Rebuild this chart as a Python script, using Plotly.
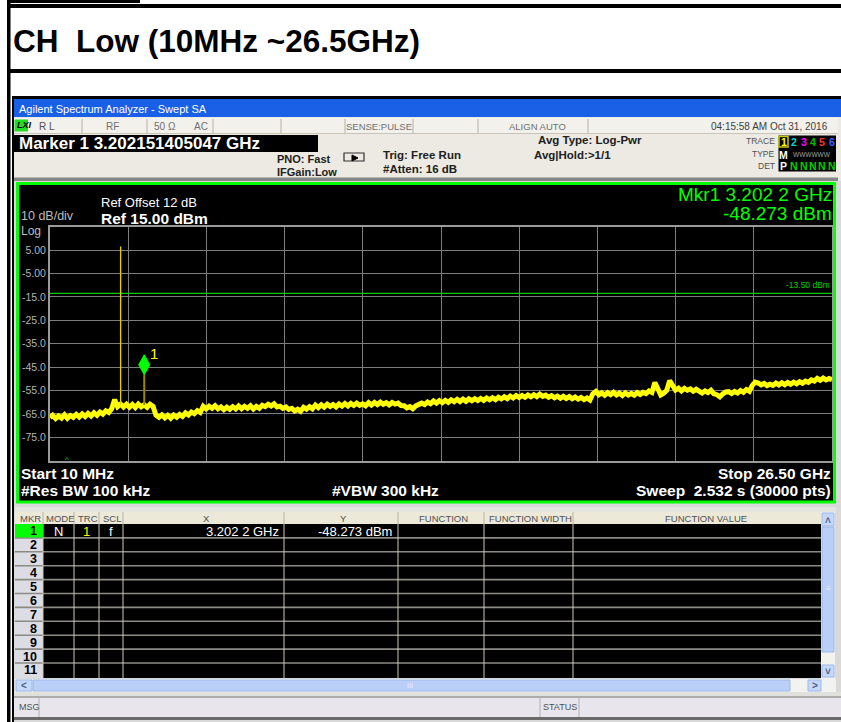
import plotly.graph_objects as go

W, H = 841, 722
FONT = "Liberation Sans, Arial, sans-serif"

# ---------------- data ----------------
freq_ghz = [0.01,
            0.1, 0.2, 0.3, 0.4, 0.5, 0.6, 0.7, 0.8, 0.9,
            1.0, 1.1, 1.2, 1.3, 1.4, 1.5, 1.6, 1.7, 1.8, 1.9,
            2.0, 2.1, 2.2, 2.3, 2.4, 2.5, 2.6, 2.7, 2.8, 2.9,
            3.0, 3.1, 3.2, 3.3, 3.4, 3.5, 3.6, 3.7, 3.8, 3.9,
            4.0, 4.1, 4.2, 4.3, 4.4, 4.5, 4.6, 4.7, 4.8, 4.9,
            5.0, 5.1, 5.2, 5.3, 5.4, 5.5, 5.6, 5.7, 5.8, 5.9,
            6.0, 6.1, 6.2, 6.3, 6.4, 6.5, 6.6, 6.7, 6.8, 6.9,
            7.0, 7.1, 7.2, 7.3, 7.4, 7.5, 7.6, 7.7, 7.8, 7.9,
            8.0, 8.1, 8.2, 8.3, 8.4, 8.5, 8.6, 8.7, 8.8, 8.9,
            9.0, 9.1, 9.2, 9.3, 9.4, 9.5, 9.6, 9.7, 9.8, 9.9,
            10.0, 10.1, 10.2, 10.3, 10.4, 10.5, 10.6, 10.7, 10.8, 10.9,
            11.0, 11.1, 11.2, 11.3, 11.4, 11.5, 11.6, 11.7, 11.8, 11.9,
            12.0, 12.1, 12.2, 12.3, 12.4, 12.5, 12.6, 12.7, 12.8, 12.9,
            13.0, 13.1, 13.2, 13.3, 13.4, 13.5, 13.6, 13.7, 13.8, 13.9,
            14.0, 14.1, 14.2, 14.3, 14.4, 14.5, 14.6, 14.7, 14.8, 14.9,
            15.0, 15.1, 15.2, 15.3, 15.4, 15.5, 15.6, 15.7, 15.8, 15.9,
            16.0, 16.1, 16.2, 16.3, 16.4, 16.5, 16.6, 16.7, 16.8, 16.9,
            17.0, 17.1, 17.2, 17.3, 17.4, 17.5, 17.6, 17.7, 17.8, 17.9,
            18.0, 18.1, 18.2, 18.3, 18.4, 18.5, 18.6, 18.7, 18.8, 18.9,
            19.0, 19.1, 19.2, 19.3, 19.4, 19.5, 19.6, 19.7, 19.8, 19.9,
            20.0, 20.1, 20.2, 20.3, 20.4, 20.5, 20.6, 20.7, 20.8, 20.9,
            21.0, 21.1, 21.2, 21.3, 21.4, 21.5, 21.6, 21.7, 21.8, 21.9,
            22.0, 22.1, 22.2, 22.3, 22.4, 22.5, 22.6, 22.7, 22.8, 22.9,
            23.0, 23.1, 23.2, 23.3, 23.4, 23.5, 23.6, 23.7, 23.8, 23.9,
            24.0, 24.1, 24.2, 24.3, 24.4, 24.5, 24.6, 24.7, 24.8, 24.9,
            25.0, 25.1, 25.2, 25.3, 25.4, 25.5, 25.6, 25.7, 25.8, 25.9,
            26.0, 26.1, 26.2, 26.3, 26.4, 26.5]
level_dbm = [-66.6,
             -65.6, -67.0, -65.9, -66.8, -65.4, -66.9, -65.7, -66.5, -65.2,
             -66.3, -65.0, -66.1, -64.8, -65.9, -64.5, -65.6, -64.2, -65.1, -63.7,
             -64.4, -62.8, -58.9, -61.9, -60.8, -62.1, -60.9, -62.2, -61.0, -62.3,
             -60.8, -62.0, -61.1, -62.2, -60.9, -61.8, -65.6, -66.5, -65.4, -66.7,
             -65.6, -66.8, -65.5, -66.4, -65.2, -66.1, -64.6, -65.5, -64.2, -64.9,
             -63.6, -64.4, -61.8, -62.9, -61.7, -62.6, -61.5, -62.8, -62.0, -63.2,
             -62.1, -63.0, -61.9, -62.9, -61.6, -62.8, -61.8, -62.6, -61.5, -62.9,
             -61.8, -62.6, -61.3, -61.9, -60.9, -61.6, -60.7, -62.0, -61.7, -62.6,
             -62.0, -63.1, -62.6, -63.7, -63.0, -63.9, -62.2, -63.0, -61.9, -62.8,
             -61.2, -62.3, -61.1, -62.1, -60.9, -61.8, -61.0, -62.0, -60.8, -61.7,
             -60.6, -61.6, -60.5, -61.4, -60.4, -61.3, -60.7, -61.5, -60.2, -61.2,
             -60.1, -61.0, -60.0, -60.9, -60.2, -61.1, -60.1, -60.8, -60.4, -61.4,
             -61.5, -62.4, -61.9, -62.8, -61.6, -61.2, -60.4, -61.0, -59.9, -60.6,
             -59.5, -60.4, -59.3, -60.2, -59.2, -60.1, -59.0, -59.8, -58.8, -59.7,
             -58.7, -59.6, -58.6, -59.4, -58.5, -59.3, -58.4, -59.2, -58.2, -59.0,
             -58.1, -58.9, -57.9, -58.6, -57.7, -58.5, -57.4, -58.2, -57.2, -58.0,
             -57.1, -57.9, -56.9, -57.7, -56.8, -57.6, -56.6, -57.5, -57.0, -57.9,
             -57.2, -58.1, -57.4, -58.3, -57.5, -58.4, -57.6, -58.5, -57.8, -58.7,
             -58.0, -58.9, -58.2, -59.1, -56.4, -55.4, -56.8, -56.0, -57.0, -55.9,
             -56.8, -55.8, -56.9, -56.1, -57.1, -56.0, -56.9, -56.2, -57.0, -55.9,
             -56.7, -55.8, -56.3, -55.2, -55.8, -51.6, -54.6, -56.9, -56.2, -55.0,
             -50.8, -53.2, -54.8, -54.0, -55.2, -54.1, -54.9, -54.3, -55.3, -54.5,
             -55.4, -56.1, -55.2, -55.9, -54.9, -56.4, -56.8, -57.7, -56.5, -55.6,
             -55.5, -56.3, -55.4, -56.1, -55.0, -55.8, -54.6, -55.3, -52.8, -51.4,
             -51.8, -52.6, -52.0, -52.9, -52.3, -52.8, -51.8, -52.6, -51.7, -52.5,
             -51.6, -52.3, -51.4, -52.1, -51.2, -51.9, -51.0, -51.5, -50.5, -51.0,
             -49.8, -50.6, -49.7, -50.5, -49.9, -50.4]

spike_freq_ghz = [2.402]
spike_level_dbm = [6.5]
spike_base_dbm = [-61.0]

marker_freq_ghz = 3.2022
marker_level_dbm = -48.273
marker_base_dbm = -61.2

limit_dbm = -13.5
start_ghz, stop_ghz = 0.01, 26.5
ref_dbm, bottom_dbm = 15.0, -85.0
ytick_vals = [5, -5, -15, -25, -35, -45, -55, -65, -75]
ytick_text = ["5.00", "-5.00", "-15.0", "-25.0", "-35.0", "-45.0", "-55.0", "-65.0", "-75.0"]

table_headers = ["MKR", "MODE", "TRC", "SCL", "X", "Y", "FUNCTION", "FUNCTION WIDTH", "FUNCTION VALUE"]
marker_numbers = ["1", "2", "3", "4", "5", "6", "7", "8", "9", "10", "11"]
row1_values = ["N", "1", "f", "3.202 2 GHz", "-48.273 dBm"]

# ---------------- helpers ----------------
shapes, annos = [], []


def X(p):
    return p / W


def Y(p):
    return 1 - p / H


def rect(x0, y0, x1, y1, fill, line=None, lw=0):
    shapes.append(dict(type="rect", xref="paper", yref="paper", x0=X(x0), x1=X(x1), y0=Y(y1), y1=Y(y0),
                       fillcolor=fill, line=dict(color=line or "rgba(0,0,0,0)", width=lw), layer="below"))


def hline(x0, x1, y, color, w=1):
    shapes.append(dict(type="line", xref="paper", yref="paper", x0=X(x0), x1=X(x1), y0=Y(y), y1=Y(y),
                       line=dict(color=color, width=w), layer="below"))


def vline(x, y0, y1, color, w=1):
    shapes.append(dict(type="line", xref="paper", yref="paper", x0=X(x), x1=X(x), y0=Y(y0), y1=Y(y1),
                       line=dict(color=color, width=w), layer="below"))


def txt(x, y, s, size, color, anchor="left", bold=False, italic=False, family=None):
    if bold:
        s = "<b>" + s + "</b>"
    if italic:
        s = "<i>" + s + "</i>"
    annos.append(dict(x=X(x), y=Y(y), xref="paper", yref="paper", text=s, showarrow=False,
                      xanchor=anchor, yanchor="middle", borderpad=0,
                      font=dict(size=size, color=color, family=family or FONT)))


# ---------------- page frame ----------------
rect(7, 0, 140, 3, "#000000")
rect(7, 4, 841, 8, "#000000")
rect(7, 0, 10.5, 722, "#000000")
rect(10, 69, 841, 73, "#000000")
txt(12, 41, "CH\u00a0 Low (10MHz ~26.5GHz)", 31.5, "#000000", bold=True)

# analyzer window
rect(12, 96, 841, 99, "#000000")
rect(12, 96, 14, 722, "#000000")
rect(14, 99, 841, 117, "#1a60e6")
txt(18, 108.5, "Agilent Spectrum Analyzer - Swept SA", 11, "#ffffff")

# header
rect(14, 117, 841, 181, "#eceae2")
rect(14, 118, 838, 133, "#f2f1ec")
for sx in [82, 147, 213, 281, 345, 413, 478, 588]:
    vline(sx, 119, 133, "#b4b0a4", 1)
hline(14, 838, 133.5, "#c8c4b8", 1)
rect(14.5, 119.5, 28, 131.5, "#22dd22")
txt(15.5, 125.5, "LXI", 9, "#000000", bold=True, italic=True)
txt(38, 126, "R L", 10, "#505050")
txt(113, 126, "RF", 10, "#707070", anchor="center")
txt(153, 126, "50 \u03a9", 10, "#707070")
txt(193, 126, "AC", 10, "#707070")
txt(379, 126, "SENSE:PULSE", 9.5, "#707070", anchor="center")
txt(537, 126, "ALIGN AUTO", 9.5, "#707070", anchor="center")
txt(829, 126, "04:15:58 AM Oct 31, 2016", 10, "#404040", anchor="right")

rect(14, 135, 318, 152, "#000000")
txt(18, 143.5, "Marker 1 3.202151405047 GHz", 17, "#ffffff", bold=True)

txt(276, 158.5, "PNO: Fast", 11, "#202020", bold=True)
txt(276, 172, "IFGain:Low", 11, "#202020", bold=True)
# trigger icon
shapes.append(dict(type="path", xref="paper", yref="paper",
                   path="M %f,%f L %f,%f L %f,%f L %f,%f Z" % (X(344), Y(153), X(364), Y(153), X(364), Y(161), X(344), Y(161)),
                   line=dict(color="#303030", width=1.2), fillcolor="rgba(0,0,0,0)", layer="below"))
shapes.append(dict(type="path", xref="paper", yref="paper",
                   path="M %f,%f L %f,%f L %f,%f Z" % (X(352), Y(155), X(358), Y(158), X(352), Y(161)),
                   line=dict(color="#000000", width=1), fillcolor="#000000", layer="below"))
txt(382, 155, "Trig: Free Run", 11.5, "#202020", bold=True)
txt(382, 169, "#Atten: 16 dB", 11.5, "#202020", bold=True)
txt(537, 140.5, "Avg Type: Log-Pwr", 11.5, "#202020", bold=True)
txt(533, 155, "Avg|Hold:>1/1", 11.5, "#202020", bold=True)

txt(776, 141, "TRACE", 8.5, "#505050", anchor="right")
txt(776, 154, "TYPE", 8.5, "#505050", anchor="right")
txt(776, 166, "DET", 8.5, "#505050", anchor="right")
rect(778.5, 135.5, 836, 171.5, "#000000")
rect(779, 136.5, 788, 147, "#000000", line="#c8c800", lw=1.5)
trace_nums = ["1", "2", "3", "4", "5", "6"]
trace_cols = ["#ffff00", "#00d0d0", "#ff00ff", "#00c000", "#ff3030", "#4060ff"]
trace_xs = [783.5, 793.5, 803.5, 813, 822, 831.5]
for s, c, x in zip(trace_nums, trace_cols, trace_xs):
    txt(x, 142, s, 10.5, c, anchor="center", bold=True)
txt(783.5, 154.5, "M", 10.5, "#ffffff", anchor="center", bold=True)
txt(812, 154.5, "WWWWWW", 6.5, "#a0a0a0", anchor="center")
txt(783.5, 166, "P", 10.5, "#ffffff", anchor="center", bold=True)
for x in trace_xs[1:]:
    txt(x, 166, "N", 10.5, "#00d000", anchor="center", bold=True)

rect(14, 177.5, 838, 181, "#858585")

# window body
rect(14, 181, 841, 722, "#d9d9d9")
rect(17.5, 183.5, 834.5, 502, "#000000", line="#00ff00", lw=3)

# panel texts
txt(100, 203, "Ref Offset 12 dB", 13, "#ffffff")
txt(100, 218, "Ref 15.00 dBm", 15.5, "#ffffff", bold=True)
txt(20, 215.5, "10 dB/div", 12.5, "#bdbdbd")
txt(20, 231, "Log", 12, "#bdbdbd")
txt(833, 195, "Mkr1 3.202 2 GHz", 19, "#00ff00", anchor="right")
txt(833, 213.5, "-48.273 dBm", 19, "#00ff00", anchor="right")
txt(20, 474, "Start 10 MHz", 15.5, "#ffffff", bold=True)
txt(66.5, 459, "^", 8, "#00dd00", anchor="center")
txt(20, 491, "#Res BW 100 kHz", 15.5, "#ffffff", bold=True)
txt(385, 491, "#VBW 300 kHz", 15.5, "#ffffff", anchor="center", bold=True)
txt(832, 474, "Stop 26.50 GHz", 15.5, "#ffffff", anchor="right", bold=True)
txt(832, 491, "Sweep\u00a0 2.532 s (30000 pts)", 15.5, "#ffffff", anchor="right", bold=True)

# ---------------- marker table ----------------
rect(15, 507, 836, 512, "#e4e4e0")
rect(15, 512, 821, 524, "#ece9d8")
rect(15, 524, 821, 678, "#000000")
rect(15, 524, 43, 678, "#dcdce4")
col_edges = [43, 74, 99, 123, 284, 398, 484, 573]
header_x = [30, 60, 87.5, 112, 206, 343, 443, 530, 706]
for hx, h in zip(header_x, table_headers):
    txt(hx, 518, h, 9.5, "#505050", anchor="center")
row_h = 13.9
for i in range(1, 11):
    hline(15, 821, 524 + i * row_h, "#8c8a84", 1.6)
for cx in col_edges:
    vline(cx, 524, 678, "#cfcab4", 1)
    vline(cx, 512, 524, "#b8b4a4", 1)
rect(15, 524, 43, 537.5, "#00ff00")
for i, n in enumerate(marker_numbers):
    txt(38, 524 + (i + 0.5) * row_h + 0.5, n, 12.5, "#000000", anchor="right", bold=True)
r1y = 524 + 0.5 * row_h + 0.5
txt(58.5, r1y, row1_values[0], 13, "#ffffff", anchor="center")
txt(86.5, r1y, row1_values[1], 13, "#ffff00", anchor="center")
txt(111, r1y, row1_values[2], 13, "#ffffff", anchor="center")
txt(280, r1y, row1_values[3], 13, "#ffffff", anchor="right")
txt(393, r1y, row1_values[4], 13, "#ffffff", anchor="right")

# vertical scrollbar
rect(821, 512, 835, 679, "#f2f2ee")
rect(822, 513, 834, 526, "#c6d8fa", line="#9db8ea", lw=1)
rect(822, 527, 834, 652, "#b9cff7", line="#9db8ea", lw=1)
rect(822, 665, 834, 677, "#c6d8fa", line="#9db8ea", lw=1)
txt(828, 520, "\u02c4", 10, "#4d6185", anchor="center", bold=True)
txt(828, 671, "\u02c5", 10, "#4d6185", anchor="center", bold=True)
txt(828, 588, "\u2261", 8, "#e8f0ff", anchor="center")

# horizontal scrollbar
rect(15, 679, 836, 692, "#f2f2ee")
rect(16, 680, 32, 691, "#c6d8fa", line="#9db8ea", lw=1)
rect(33, 680, 790, 691, "#b9cff7", line="#9db8ea", lw=1)
rect(808, 680, 821, 691, "#c6d8fa", line="#9db8ea", lw=1)
txt(24, 685.5, "<", 10, "#4d6185", anchor="center", bold=True)
txt(814.5, 685.5, ">", 10, "#4d6185", anchor="center", bold=True)
txt(410, 685.5, "III", 7, "#e8f0ff", anchor="center")

# message bar
rect(14, 692, 841, 697, "#e0e0dc")
rect(14, 697, 841, 717, "#e8e6ec")
hline(14, 841, 697, "#9a9a9a", 1.5)
vline(39, 697, 717, "#b0b0b0", 1)
vline(540, 697, 717, "#b0b0b0", 1)
vline(579, 697, 717, "#b0b0b0", 1)
txt(18, 707, "MSG", 9, "#505050")
txt(559.5, 707, "STATUS", 9, "#505050", anchor="center")
rect(14, 717, 841, 720, "#6a6a6a")

# ---------------- spectrum ----------------
fig = go.Figure()
fig.add_trace(go.Scatter(x=[start_ghz, stop_ghz], y=[limit_dbm, limit_dbm], mode="lines",
                         line=dict(color="#00cc00", width=1.2), hoverinfo="skip"))
fig.add_trace(go.Scatter(x=freq_ghz, y=level_dbm, mode="lines",
                         line=dict(color="#ffff00", width=5), hoverinfo="skip"))
for f, lv, b in zip(spike_freq_ghz, spike_level_dbm, spike_base_dbm):
    fig.add_trace(go.Scatter(x=[f, f], y=[b, lv], mode="lines",
                             line=dict(color="#e6d000", width=1.3), hoverinfo="skip"))
fig.add_trace(go.Scatter(x=[marker_freq_ghz, marker_freq_ghz], y=[marker_base_dbm, marker_level_dbm],
                         mode="lines", line=dict(color="#9c8600", width=2), hoverinfo="skip"))

# marker diamond (pixel-sized, anchored at marker value)
shapes.append(dict(type="path", xref="x", yref="y", xsizemode="pixel", ysizemode="pixel",
                   xanchor=marker_freq_ghz, yanchor=marker_level_dbm,
                   path="M 0,0 L 5.5,10 L 0,20 L -5.5,10 Z",
                   fillcolor="#00ff00", line=dict(color="#00ff00", width=1), layer="above"))
annos.append(dict(x=marker_freq_ghz, y=marker_level_dbm, xref="x", yref="y", text="1", showarrow=False,
                  xshift=10, yshift=21, font=dict(size=15, color="#ffff00", family=FONT)))
annos.append(dict(x=stop_ghz, y=limit_dbm, xref="x", yref="y", text="-13.50 dBm", showarrow=False,
                  xanchor="right", yanchor="bottom", yshift=1,
                  font=dict(size=8.5, color="#00cc00", family=FONT)))

fig.update_layout(
    width=W, height=H, margin=dict(l=0, r=0, t=0, b=0),
    paper_bgcolor="#ffffff", plot_bgcolor="rgba(0,0,0,0)",
    showlegend=False, shapes=shapes, annotations=annos,
    font=dict(family=FONT),
    xaxis=dict(domain=[50 / W, 832 / W], range=[start_ghz, stop_ghz], tick0=start_ghz,
               dtick=(stop_ghz - start_ghz) / 10, showticklabels=False, ticks="",
               showgrid=True, gridcolor="#7d7d7d", gridwidth=1.3, zeroline=False,
               showline=True, mirror=True, linecolor="#9a9a9a", linewidth=2, fixedrange=True),
    yaxis=dict(domain=[1 - 460.7 / H, 1 - 226.7 / H], range=[bottom_dbm, ref_dbm],
               tickvals=ytick_vals, ticktext=ytick_text, ticks="",
               tickfont=dict(size=10.5, color="#b4b4b4", family=FONT),
               showgrid=True, gridcolor="#7d7d7d", gridwidth=1.3, zeroline=False,
               showline=True, mirror=True, linecolor="#9a9a9a", linewidth=2, fixedrange=True),
)

fig.write_html("out.html", config={"displayModeBar": False},
               post_script="document.body.style.margin='0';document.body.style.overflow='hidden';")
